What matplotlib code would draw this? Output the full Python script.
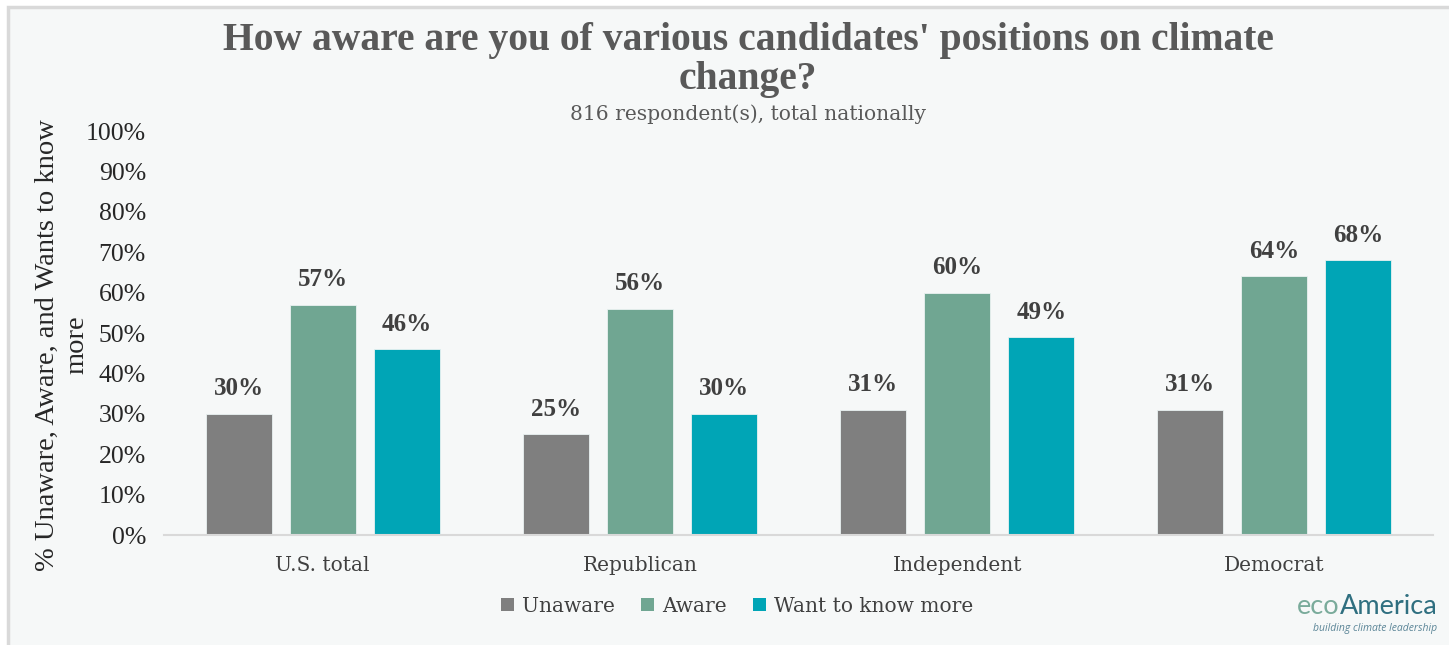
import matplotlib
matplotlib.use("Agg")
import matplotlib.pyplot as plt
from matplotlib.patches import Rectangle, Patch
import numpy as np

categories = ["U.S. total", "Republican", "Independent", "Democrat"]
series_names = ["Unaware", "Aware", "Want to know more"]
unaware = [30, 25, 31, 31]
aware = [57, 56, 60, 64]
want_more = [46, 30, 49, 68]
yticks = [0, 10, 20, 30, 40, 50, 60, 70, 80, 90, 100]
colors = ["#7f7f7f", "#70a692", "#00a5b6"]

W, H = 1449, 645
fig = plt.figure(figsize=(W / 100, H / 100), dpi=100)
fig.patch.set_facecolor("white")

# panel background with border
bg = Rectangle((8 / W, -0.1), 1.2, 1 - 7 / H + 0.1, transform=fig.transFigure,
               facecolor="#f6f8f8", edgecolor="#d9d9d9", linewidth=2.5, zorder=-10)
fig.patches.append(bg)

ax = fig.add_axes([164 / W, (H - 535) / H, 1269 / W, (535 - 131) / H])
ax.set_facecolor("none")

x = np.arange(len(categories))
bw = 0.208
step = 0.265
serif = ["Liberation Serif", "DejaVu Serif"]
wide = ["DejaVu Serif"]
for i, (vals, c) in enumerate(zip([unaware, aware, want_more], colors)):
    pos = x + (i - 1) * step
    ax.bar(pos, vals, width=bw, color=c, label=series_names[i], zorder=2,
           edgecolor="#e9f1f1", linewidth=0.6)
    for p, v in zip(pos, vals):
        ax.text(p, v + 3.3, f"{v}%", ha="center", va="bottom", fontsize=18,
                fontweight="bold", color="#404040", family=serif)

ax.set_xlim(-0.5, 3.5)
ax.set_ylim(0, 100)
ax.set_yticks(yticks)
ax.set_yticklabels([f"{t}%" for t in yticks], fontsize=18.5, color="#262626", family=serif)
ax.set_xticks(x)
ax.set_xticklabels(categories, fontsize=14.5, color="#404040", family=wide)
ax.tick_params(axis="both", length=0)
ax.tick_params(axis="y", pad=13)
ax.tick_params(axis="x", pad=15)
for s in ["top", "right", "left"]:
    ax.spines[s].set_visible(False)
ax.spines["bottom"].set_color("#d9d9d9")
ax.spines["bottom"].set_linewidth(1.5)

ax.set_ylabel("% Unaware, Aware, and Wants to know\nmore", fontsize=20.5, color="#262626",
              family=serif, linespacing=1.2)
ax.yaxis.set_label_coords(-0.059, 0.47)

fig.text(748 / W, 1 - 60 / H, "How aware are you of various candidates' positions on climate\nchange?",
         ha="center", va="center", fontsize=28.5, fontweight="bold", color="#595959",
         family=serif, linespacing=1.05)
fig.text(748 / W, 1 - 114 / H, "816 respondent(s), total nationally", ha="center", va="center",
         fontsize=14.6, color="#595959", family=wide)

handles = [Patch(facecolor=c) for c in colors]
leg = fig.legend(handles, series_names, loc="center", bbox_to_anchor=(737 / W, 1 - 606 / H),
                 ncol=3, frameon=False, handlelength=0.65, handleheight=0.65,
                 handletextpad=0.4, columnspacing=1.3,
                 prop={"family": wide, "size": 14.5})
for t in leg.get_texts():
    t.set_color("#404040")

# logo
eco = fig.text(1297 / W, 1 - 614 / H, "eco", ha="left", va="baseline", fontsize=19.5,
               color="#7aab9b", family="Lato")
ax.annotate("America", xy=(1, 0), xycoords=eco, va="bottom", ha="left",
            fontsize=19.5, color="#2f6f80", family="Lato", annotation_clip=False)
fig.text(1437 / W, 1 - 628 / H, "building climate leadership", ha="right", va="center",
         fontsize=7.5, style="italic", color="#5b8597", family="Open Sans")

fig.savefig("out.png", dpi=100, facecolor="white")
